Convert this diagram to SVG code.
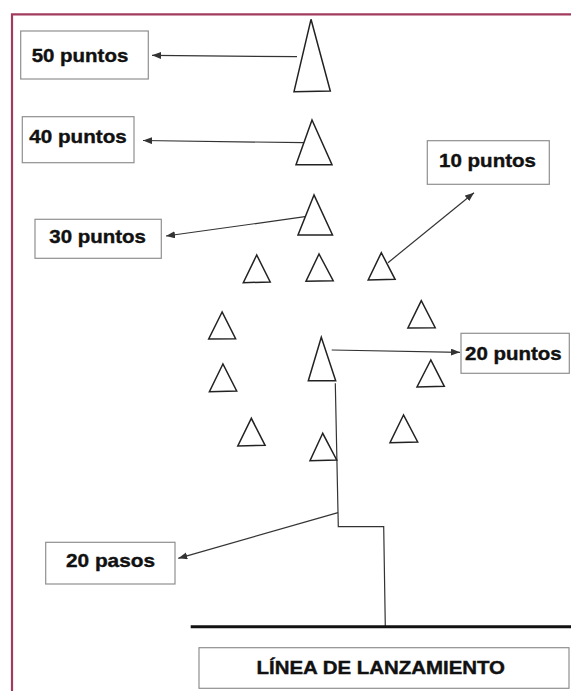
<svg xmlns="http://www.w3.org/2000/svg" width="571" height="691" viewBox="0 0 571 691">
  <style>
    .box { fill: #ffffff; stroke: #8f8f8f; stroke-width: 1.2; }
    .lbl { font-family: "Liberation Sans", Arial, sans-serif; font-weight: bold; font-size: 19px; fill: #111111; stroke: #111111; stroke-width: 0.4; }
    .big { font-size: 18px; }
    .cone { fill: #ffffff; stroke: #222222; stroke-width: 1.5; stroke-linejoin: miter; }
    .conn { fill: none; stroke: #333333; stroke-width: 1.2; }
    .arrow { marker-end: url(#ah); }
  </style>
  <defs>
    <marker id="ah" markerUnits="userSpaceOnUse" markerWidth="10" markerHeight="8" refX="9" refY="3.5" orient="auto">
      <path d="M0,0 L9,3.5 L0,7 z" fill="#333333"/>
    </marker>
  </defs>
  <rect x="0" y="0" width="571" height="691" fill="#ffffff"/>
  <path d="M12,691 V14.3 H571" fill="none" stroke="#a23a5c" stroke-width="2.2"/>

  <g id="connectors">
    <line class="conn arrow" x1="297" y1="56.7" x2="152" y2="55.3"/>
    <line class="conn arrow" x1="304" y1="142.7" x2="143" y2="140.5"/>
    <line class="conn arrow" x1="305" y1="216.7" x2="166" y2="236"/>
    <line class="conn arrow" x1="388" y1="262.7" x2="474" y2="192.7"/>
    <line class="conn arrow" x1="331.7" y1="350" x2="460" y2="352.3"/>
    <line class="conn arrow" x1="338" y1="512.7" x2="178.3" y2="558.3"/>
    <path class="conn" d="M335.3,383.3 L338.3,526.7 L383.7,526.7 L385.3,626.7" stroke-width="1.4"/>
    <line x1="190.7" y1="626.7" x2="571" y2="626.7" stroke="#111111" stroke-width="3"/>
  </g>

  <g id="cone50"><polygon class="cone" points="311,19.3 294,91.7 330.3,91"/></g>
  <g id="cone40"><polygon class="cone" points="312,120 296,164.7 332,164.7"/></g>
  <g id="cone30"><polygon class="cone" points="314,195 298,235 332.5,235"/></g>
  <g id="coneA"><polygon class="cone" points="256.7,255 243.3,282.7 270.2,282"/></g>
  <g id="coneB"><polygon class="cone" points="319,254 306,281.3 333.2,280.7"/></g>
  <g id="coneC"><polygon class="cone" points="381.3,252.7 368.2,280 395.1,279.3"/></g>
  <g id="coneD"><polygon class="cone" points="421.3,300.7 407.9,328 435.2,327.7"/></g>
  <g id="coneE"><polygon class="cone" points="222.1,312 208.7,339 235.6,338.7"/></g>
  <g id="cone20"><polygon class="cone" points="321.3,337.3 308.3,380.7 335.7,380.7"/></g>
  <g id="coneF"><polygon class="cone" points="430.8,360 417,387 444.3,386.3"/></g>
  <g id="coneG"><polygon class="cone" points="222.9,364 209.4,391.7 236.7,391"/></g>
  <g id="coneH"><polygon class="cone" points="251.3,418.3 237.8,446 265.1,445.3"/></g>
  <g id="coneI"><polygon class="cone" points="403.5,415 390,442.7 417.7,442"/></g>
  <g id="coneJ"><polygon class="cone" points="322.7,433.3 310,460.7 336.7,460"/></g>

  <g id="label50">
    <rect class="box" x="20.7" y="31" width="127.6" height="48"/>
    <text class="lbl" x="31.7" y="62.3" textLength="96.6" lengthAdjust="spacingAndGlyphs">50 puntos</text>
  </g>
  <g id="label40">
    <rect class="box" x="22.3" y="116.7" width="111.7" height="46"/>
    <text class="lbl" x="29.3" y="143.3" textLength="97.4" lengthAdjust="spacingAndGlyphs">40 puntos</text>
  </g>
  <g id="label10">
    <rect class="box" x="427.3" y="140.7" width="122" height="43.6"/>
    <text class="lbl" x="439" y="167.3" textLength="97" lengthAdjust="spacingAndGlyphs">10 puntos</text>
  </g>
  <g id="label30">
    <rect class="box" x="35" y="219.3" width="126.3" height="39"/>
    <text class="lbl" x="49.3" y="243.3" textLength="96.7" lengthAdjust="spacingAndGlyphs">30 puntos</text>
  </g>
  <g id="label20">
    <rect class="box" x="461" y="333.3" width="108.3" height="40"/>
    <text class="lbl" x="465" y="360" textLength="96.7" lengthAdjust="spacingAndGlyphs">20 puntos</text>
  </g>
  <g id="labelPasos">
    <rect class="box" x="45.7" y="542.3" width="129.3" height="41.7"/>
    <text class="lbl" x="66" y="567.3" textLength="89" lengthAdjust="spacingAndGlyphs">20 pasos</text>
  </g>
  <g id="labelLinea">
    <rect class="box" x="199" y="647.7" width="370" height="40.6"/>
    <text class="lbl big" x="256.5" y="674" textLength="248.5" lengthAdjust="spacingAndGlyphs">LÍNEA DE LANZAMIENTO</text>
  </g>
</svg>
